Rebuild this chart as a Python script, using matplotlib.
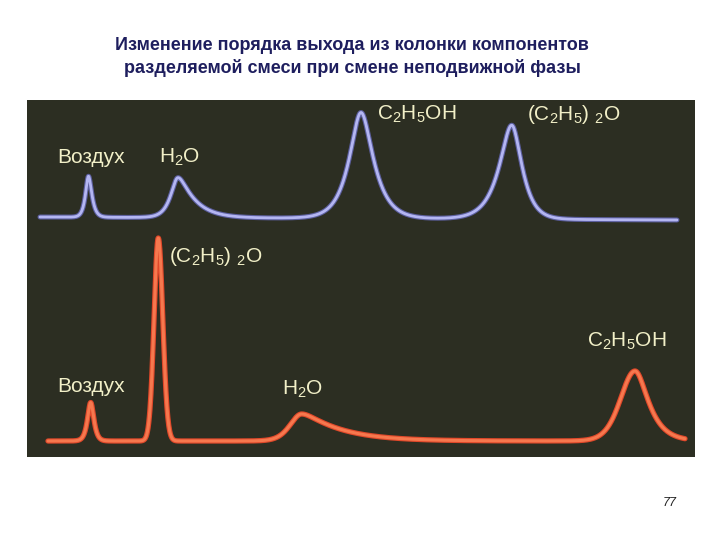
import numpy as np
import matplotlib
matplotlib.use("Agg")
import matplotlib.pyplot as plt
import matplotlib.patheffects as pe

plt.rcParams['font.family'] = ['Liberation Sans', 'DejaVu Sans']
plt.rcParams['mathtext.fontset'] = 'custom'
plt.rcParams['mathtext.rm'] = 'Liberation Sans'

# retention position, height, (left rounding, left tail), (right rounding, right tail)
# x in panel units, heights in the same units
top_names = ['Воздух', 'H2O', 'C2H5OH', '(C2H5)2O']
top_pos = [88.5, 178, 361, 511.7]
top_height = [41, 40, 106, 94]
top_left = [(2.5, 2.5), (6, 6), (8, 11), (8, 12)]
top_right = [(2.5, 3), (5, 16), (8, 12), (8, 9)]
top_base = [240, 237]          # baseline at start and end
top_span = [40, 677]

bot_names = ['Воздух', '(C2H5)2O', 'H2O', 'C2H5OH']
bot_pos = [90.7, 158.3, 301.7, 635]
bot_height = [38.5, 203, 27, 70]
bot_left = [(3, 2.5), (20, 0.9), (20, 6), (30, 6.5)]
bot_right = [(3, 2.5), (20, 1.0), (8, 38), (10, 12)]
bot_base = [16, 16]
bot_span = [48, 685]

# label text, left x, baseline y
top_labels = ['Воздух', r'$\mathregular{H_2O}$', r'$\mathregular{C_2H_5OH}$',
              r'$\mathregular{(C_2H_5)\;{}_2O}$']
top_label_x = [57, 159, 377, 527]
top_label_y = [294, 294, 337, 337]
bot_labels = ['Воздух', r'$\mathregular{(C_2H_5)\;{}_2O}$', r'$\mathregular{H_2O}$',
              r'$\mathregular{C_2H_5OH}$']
bot_label_x = [57, 169, 282, 587]
bot_label_y = [65, 195, 62, 110]

title = ('Изменение порядка выхода из колонки компонентов\n'
         'разделяемой смеси при смене неподвижной фазы')


def peak(x, x0, h, left, right):
    d = x - x0
    s = np.where(d < 0, left[0], right[0])
    t = np.where(d < 0, left[1], right[1])
    return h * np.exp(-(np.sqrt(1 + (d / s) ** 2) - 1) * s / t)


def trace(span, base, pos, height, left, right):
    x = np.linspace(span[0], span[1], 2000)
    y = np.interp(x, span, base)
    for x0, h, l, r in zip(pos, height, left, right):
        y = y + peak(x, x0, h, l, r)
    return x, y


fig = plt.figure(figsize=(7.2, 5.4), dpi=100)
fig.patch.set_facecolor('white')
ax = fig.add_axes([27 / 720, 83 / 540, 668 / 720, 357 / 540])
ax.set_facecolor('#2c2e22')
ax.set_xlim(27, 695)
ax.set_ylim(0, 357)
ax.set_xticks([])
ax.set_yticks([])
for sp in ax.spines.values():
    sp.set_visible(False)

x, y = trace(top_span, top_base, top_pos, top_height, top_left, top_right)
ax.plot(x, y, color='#b4b6f2', lw=2.0, solid_capstyle='round',
        path_effects=[pe.Stroke(linewidth=3.6, foreground='#5c5f9e'), pe.Normal()])

x, y = trace(bot_span, bot_base, bot_pos, bot_height, bot_left, bot_right)
ax.plot(x, y, color='#f6784e', lw=2.2, solid_capstyle='round',
        path_effects=[pe.Stroke(linewidth=3.8, foreground='#e0482a'), pe.Normal()])

for lab, lx, ly in zip(top_labels + bot_labels, top_label_x + bot_label_x,
                       top_label_y + bot_label_y):
    ax.text(lx, ly, lab, color='#f2f0c8', fontsize=15, ha='left', va='baseline')

fig.text(352 / 720, 1 - 57 / 540, title, ha='center', va='center', fontsize=13,
         fontweight='bold', color='#1e1e5e', linespacing=1.4)
fig.text(677 / 720, 1 - 503 / 540, '77', ha='right', va='center', fontsize=9,
         color='#222222', style='italic')

fig.savefig('out.png', dpi=100)
